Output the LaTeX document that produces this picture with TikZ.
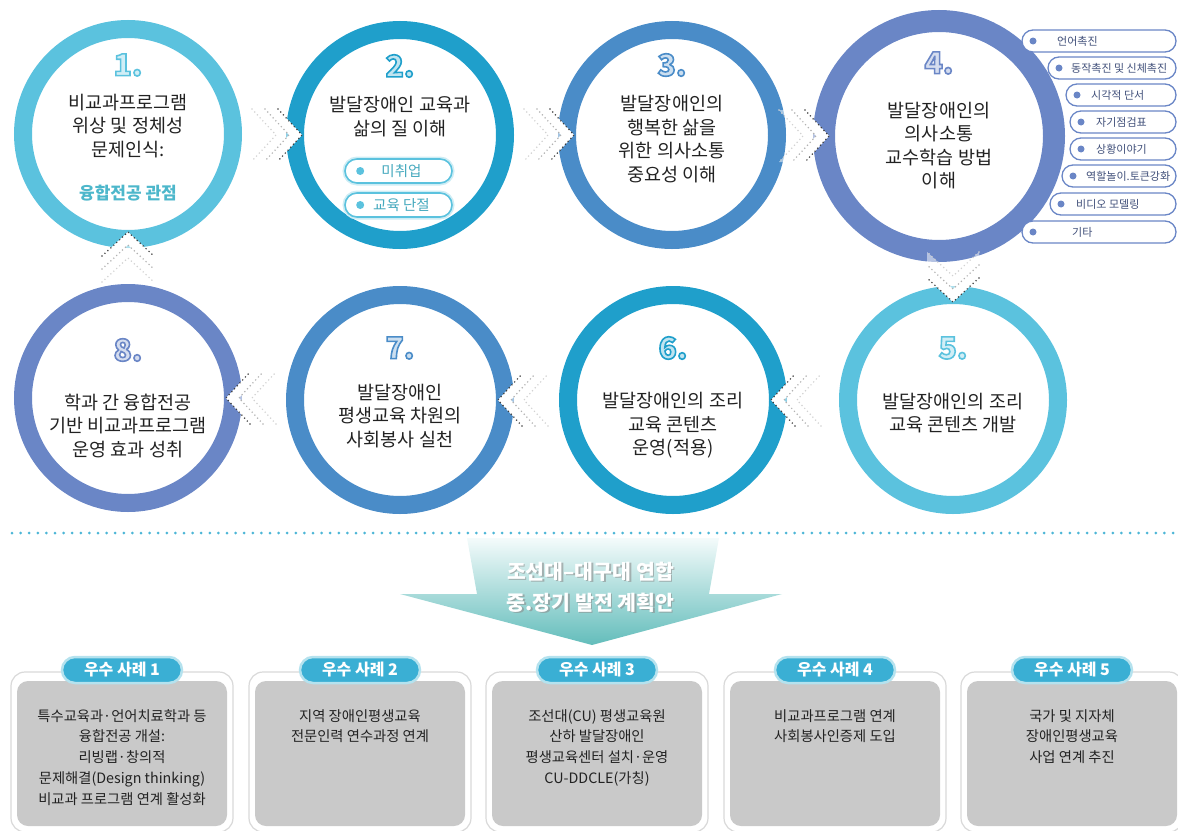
\documentclass[tikz,border=0pt]{standalone}
\usepackage{fontspec}
\setmainfont{Noto Sans CJK KR}
\usepackage{tikz}
\usetikzlibrary{calc,positioning}
\definecolor{ringA}{HTML}{5BC2DE}
\definecolor{ringB}{HTML}{1F9FCB}
\definecolor{ringC}{HTML}{4A8CC8}
\definecolor{ringD}{HTML}{6A86C6}
\definecolor{accentTeal}{HTML}{4DB7CB}
\definecolor{chipText}{HTML}{45A9BE}
\definecolor{tagText}{HTML}{41507A}
\definecolor{sepDot}{HTML}{4DB6D6}
\definecolor{arrowTop}{HTML}{F4FBFB}
\definecolor{arrowBot}{HTML}{63BDBB}
\definecolor{caseGrey}{HTML}{C9C9C9}
\definecolor{caseLine}{HTML}{D9D9D9}
\definecolor{caseTitle}{HTML}{3AAFD4}
\definecolor{caseTitleLine}{HTML}{B5E2EE}
\definecolor{bodyText}{HTML}{222222}

% stroke colours of the step numbers
\def\rgbringA{0.357 0.761 0.871 RG}
\def\rgbringB{0.122 0.624 0.796 RG}
\def\rgbringC{0.290 0.549 0.784 RG}
\def\rgbringD{0.416 0.525 0.776 RG}
% outlined step number
\newcommand\glownum[2]{{\color{#1!28}\special{pdf:literal direct 2 Tr 1.6 w \csname rgb#1\endcsname}#2\special{pdf:literal direct 0 Tr}}}

% dotted double chevron, tip at #1, turned by #2
\newcommand\chevron[2]{%
  \begin{scope}[shift={#1}, rotate=#2]
    \fill[white, opacity=.5] (-24,-26) -- (0,0) -- (-24,26) -- (-50,26) -- (-26,0) -- (-50,-26) -- cycle;
    \fill[white] (-24,-26) -- (0,0) -- (-24,26) -- (-37,26) -- (-13,0) -- (-37,-26) -- cycle;
    \draw[chevdot, gray!35] (-50,-26) -- (-26,0) -- (-50,26);
    \draw[chevdot, gray!60] (-37,-26) -- (-13,0) -- (-37,26);
    \draw[chevdot, black!75] (-24,-26) -- (0,0) -- (-24,26);
  \end{scope}}

\tikzset{
  ring/.style={circle, draw=#1, line width=18pt, minimum size=210pt, inner sep=0pt, outer sep=9pt},
  numlabel/.style={font=\fontsize{30}{30}\selectfont\bfseries, inner sep=0pt},
  ctext/.style={align=center, text=bodyText, font=\fontsize{18.5}{23.5}\selectfont, inner sep=0pt},
  chevdot/.style={line width=1.7pt, dash pattern=on 0pt off 4pt, line cap=round},
  chip/.style={draw=ringA, line width=1.6pt, fill=white, rounded corners=12pt, minimum width=107pt, minimum height=24pt, preaction={draw=ringA!30, line width=5pt}},
  chiptext/.style={text=chipText, font=\fontsize{14.5}{14.5}\selectfont, inner sep=0pt},
  tagtext/.style={text=tagText, font=\fontsize{11}{11}\selectfont, inner sep=0pt},
  sepdots/.style={draw=sepDot, line width=3pt, dash pattern=on 0pt off 8.6pt, line cap=round},
  plantext/.style={align=center, font=\fontsize{20.5}{31}\selectfont\bfseries, inner sep=0pt},
  caseframe/.style={rectangle, rounded corners=14pt, fill=white, draw=caseLine, line width=1.2pt, minimum width=222pt, minimum height=160pt},
  casebox/.style={rectangle, rounded corners=11pt, fill=caseGrey, minimum width=210pt, minimum height=145pt},
  casetitle/.style={rectangle, rounded corners=13pt, fill=caseTitle, draw=caseTitleLine, line width=2.5pt, minimum width=120pt, minimum height=26pt, text=white, font=\fontsize{16}{16}\selectfont\bfseries},
  casetext/.style={align=center, text=bodyText, font=\fontsize{14.3}{20.8}\selectfont, inner sep=0pt}
}

\begin{document}
\begin{tikzpicture}[x=1pt,y=-1pt]
  \useasboundingbox (0,0) rectangle (1178,830);

  % rings
  \foreach \n/\cx/\cy/\col in {1/128/134/ringA,2/400/135/ringB,3/672/135/ringC,5/953/400/ringA,6/673/400/ringB,7/400/400/ringC,8/128/398/ringD}
    \node[ring=\col] (c\n) at (\cx,\cy) {};
  \node[ring=ringD, line width=22pt, minimum size=230pt, outer sep=11pt] (c4) at (939,136) {};

  % flow chevrons
  \chevron{($(c2.west)+(16,0)$)}{0}
  \chevron{($(c3.west)+(16,0)$)}{0}
  \chevron{($(c4.west)+(16,0)$)}{0}
  \chevron{($(c5.north)+(0,16)$)}{-90}
  \chevron{($(c6.east)+(-16,0)$)}{180}
  \chevron{($(c7.east)+(-16,0)$)}{180}
  \chevron{($(c8.east)+(-16,0)$)}{180}
  \chevron{($(c1.south)+(0,-16)$)}{90}

  % methods of circle 4
  \foreach \i/\lx/\ty/\tx/\lab in {1/1022/41/1057/언어촉진,2/1048/68/1071/동작촉진 및 신체촉진,3/1066/95/1091/시각적 단서,4/1070/122/1096/자기점검표,5/1070/149/1096/상황이야기,6/1062/176/1086/역할놀이.토큰강화,7/1050/204/1076/비디오 모델링,8/1022/232/1072/기타} {
    \draw[fill=white, draw=ringD, line width=1.3pt, rounded corners=11pt] (\lx,\ty-11) rectangle (1176,\ty+11);
    \fill[ringD] (\lx+11,\ty) circle[radius=3.5];
    \node[tagtext, anchor=west] (tg\i) at (\tx,\ty) {\lab};
  }

  % numbers
  \foreach \n/\dy/\col in {1/-69/ringA,2/-69/ringB,3/-70/ringC,4/-73/ringD,5/-52/ringA,6/-52/ringB,7/-52/ringC,8/-48/ringD}
    \node[numlabel] (n\n) at ($(c\n.center)+(0,\dy)$) {\glownum{\col}{\n.}};

  % circle texts
  \foreach \n/\dy/\txt in {1/-8/{비교과프로그램\\위상 및 정체성\\문제인식:},2/-18.5/{발달장애인 교육과\\삶의 질 이해},3/4/{발달장애인의\\행복한 삶을\\위한 의사소통\\중요성 이해},4/9.5/{발달장애인의\\의사소통\\교수학습 방법\\이해},5/13/{발달장애인의 조리\\교육 콘텐츠 개발},6/25.5/{발달장애인의 조리\\교육 콘텐츠\\운영(적용)},7/16/{발달장애인\\평생교육 차원의\\사회봉사 실천},8/27.5/{학과 간 융합전공\\기반 비교과프로그램\\운영 효과 성취}}
    \node[ctext] (t\n) at ($(c\n.center)+(0,\dy)$) {\txt};
  \node[ctext, text=accentTeal, font=\fontsize{17}{20}\selectfont\bfseries] (k1) at ($(c1.center)+(0,59)$) {융합전공 관점};

  % chips of circle 2
  \foreach \i/\py/\lab in {1/36/미취업,2/70/교육 단절} {
    \node[chip] (p\i) at ($(c2.center)+(-1.5,\py)$) {};
    \fill[ringA] ($(p\i.west)+(16,0)$) circle[radius=4];
    \node[chiptext] (pt\i) at ($(p\i.center)+(3,0)$) {\lab};
  }

  % separator and plan arrow
  \draw[sepdots] (12,533) -- (1178,533);
  \shade[top color=arrowTop, bottom color=arrowBot] (467,538) -- (719,538) -- (709,594) -- (782,594) -- (592,645) -- (400,594) -- (477,594) -- cycle;
  \node[plantext, text=black!45, opacity=.6] (planshade) at (592,588.5) {조선대–대구대 연합\\중.장기 발전 계획안};
  \node[plantext, text=white] (plan) at (590.5,587) {조선대–대구대 연합\\중.장기 발전 계획안};

  % best cases
  \foreach \i/\bx/\txt in {1/122/{특수교육과·언어치료학과 등\\융합전공 개설:\\리빙랩·창의적\\문제해결(Design thinking)\\비교과 프로그램 연계 활성화},2/360/{지역 장애인평생교육\\전문인력 연수과정 연계},3/597/{조선대(CU) 평생교육원\\산하 발달장애인\\평생교육센터 설치·운영\\CU-DDCLE(가칭)},4/835/{비교과프로그램 연계\\사회봉사인증제 도입},5/1072/{국가 및 지자체\\장애인평생교육\\사업 연계 추진}} {
    \node[caseframe] (f\i) at (\bx,752) {};
    \node[casebox] (b\i) at (\bx,753.5) {};
    \node[casetitle] (h\i) at (\bx,670) {우수 사례 \i};
    \node[casetext, anchor=north] (x\i) at (\bx,709) {\txt};
  }
\end{tikzpicture}
\end{document}
